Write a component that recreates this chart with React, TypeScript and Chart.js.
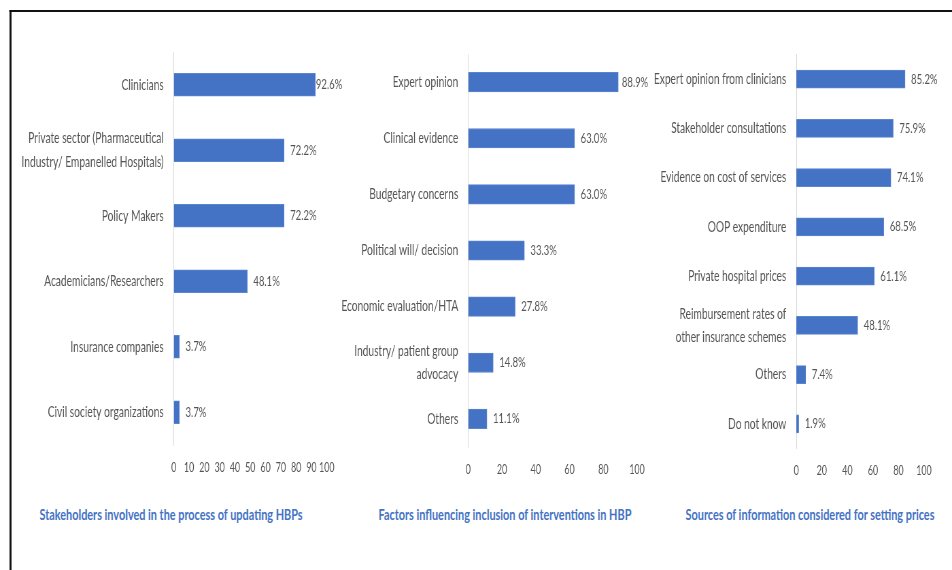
import React, { useEffect, useRef } from "react";
import { Chart, registerables } from "chart.js";

Chart.register(...registerables);

// ---------- data ----------
const stakeholderLabels: (string | string[])[] = [
  "Clinicians",
  ["Private sector (Pharmaceutical", "Industry/ Empanelled Hospitals)"],
  "Policy Makers",
  "Academicians/Researchers",
  "Insurance companies",
  "Civil society organizations",
];
const stakeholderValues = [92.6, 72.2, 72.2, 48.1, 3.7, 3.7];
const stakeholderTitle = "Stakeholders involved in the process of updating HBPs";
const stakeholderStep = 10;

const factorLabels: (string | string[])[] = [
  "Expert opinion",
  "Clinical evidence",
  "Budgetary concerns",
  "Political will/ decision",
  "Economic evaluation/HTA",
  ["Industry/ patient group", "advocacy"],
  "Others",
];
const factorValues = [88.9, 63.0, 63.0, 33.3, 27.8, 14.8, 11.1];
const factorTitle = "Factors influencing inclusion of interventions in HBP";
const factorStep = 20;

const sourceLabels: (string | string[])[] = [
  "Expert opinion from clinicians",
  "Stakeholder consultations",
  "Evidence on cost of services",
  "OOP expenditure",
  "Private hospital prices",
  ["Reimbursement rates of", "other insurance schemes"],
  "Others",
  "Do not know",
];
const sourceValues = [85.2, 75.9, 74.1, 68.5, 61.1, 48.1, 7.4, 1.9];
const sourceTitle = "Sources of information considered for setting prices";
const sourceStep = 20;

const axisMin = 0;
const axisMax = 100;

// ---------- style ----------
const S = 0.68; // horizontal squeeze of the whole picture
const X = (px: number) => px / S;
const FONT = "Lato, 'Noto Sans', sans-serif";
const BAR = "#4472C4";
const TEXT = "#555555";

type PanelProps = {
  labels: (string | string[])[];
  values: number[];
  step: number;
  left: number;
  right: number;
  top: number;
  bottom: number;
  axisX: number;
  fullX: number;
  areaTop: number;
  areaBottom: number;
  barThickness: number;
  labelLimit: number;
};

function Panel(p: PanelProps) {
  const ref = useRef<HTMLCanvasElement>(null);
  const w = Math.round(X(p.right - p.left));
  const h = Math.round(p.bottom - p.top);

  useEffect(() => {
    const canvas = ref.current;
    if (!canvas) return;
    const valueLabels = {
      id: "valueLabels",
      afterDatasetsDraw(chart: any) {
        const ctx = chart.ctx;
        const meta = chart.getDatasetMeta(0);
        ctx.save();
        ctx.font = `14px ${FONT}`;
        ctx.fillStyle = TEXT;
        ctx.textBaseline = "middle";
        ctx.textAlign = "left";
        const limit = X(p.labelLimit - p.left);
        meta.data.forEach((bar: any, i: number) => {
          const txt = p.values[i].toFixed(1) + "%";
          const tw = ctx.measureText(txt).width;
          let x = bar.x + X(6);
          if (x + tw > limit) x = limit - tw;
          ctx.fillText(txt, x, bar.y);
        });
        ctx.restore();
      },
    };
    const chart = new Chart(canvas, {
      type: "bar",
      data: {
        labels: p.labels,
        datasets: [
          {
            data: p.values,
            backgroundColor: BAR,
            borderColor: "#5b84cf",
            borderWidth: 1,
            barThickness: p.barThickness,
          },
        ],
      },
      options: {
        indexAxis: "y",
        responsive: false,
        animation: false,
        layout: {
          padding: {
            top: p.areaTop - p.top,
            right: X(p.right - p.fullX),
            left: 0,
            bottom: 0,
          },
        },
        plugins: {
          legend: { display: false },
          tooltip: { enabled: false },
          title: { display: false },
        },
        scales: {
          x: {
            min: axisMin,
            max: axisMax,
            grid: { display: false, drawTicks: false },
            border: { display: false },
            ticks: {
              stepSize: p.step,
              autoSkip: false,
              maxRotation: 0,
              minRotation: 0,
              color: TEXT,
              font: { family: FONT, size: 13 },
              padding: 15,
            },
            afterFit: (s: any) => {
              s.height = p.bottom - p.areaBottom;
            },
          },
          y: {
            grid: { display: false, drawTicks: false },
            border: { display: true, color: "#d9d9d9", width: 1 },
            ticks: {
              color: TEXT,
              font: { family: FONT, size: 15, lineHeight: 1.55 },
              padding: X(10),
              autoSkip: false,
            },
            afterFit: (s: any) => {
              s.width = X(p.axisX - p.left);
              s.paddingTop = 0;
              s.paddingBottom = 0;
            },
          },
        },
      },
      plugins: [valueLabels],
    } as any);
    return () => chart.destroy();
  }, []);

  return (
    <canvas
      ref={ref}
      width={w}
      height={h}
      style={{ position: "absolute", left: X(p.left), top: p.top, width: w, height: h, display: "block" }}
    />
  );
}

function Title({ text, cx }: { text: string; cx: number }) {
  return (
    <div
      style={{
        position: "absolute",
        left: X(cx) - 400,
        width: 800,
        top: 504,
        height: 20,
        lineHeight: "20px",
        textAlign: "center",
        color: BAR,
        fontFamily: FONT,
        fontWeight: 700,
        fontSize: 16,
        whiteSpace: "nowrap",
      }}
    >
      {text}
    </div>
  );
}

export default function App() {
  return (
    <div
      style={{
        position: "fixed",
        left: 0,
        top: 0,
        width: X(952),
        height: 570,
        overflow: "hidden",
        background: "#fff",
        transform: `scaleX(${S})`,
        transformOrigin: "0 0",
      }}
    >
      <div
        style={{
          position: "absolute",
          left: X(9.5),
          top: 9.5,
          width: X(1200),
          height: 800,
          borderLeft: `${X(2.5)}px solid #111`,
          borderTop: "2px solid #111",
        }}
      />
      <Panel
        labels={stakeholderLabels}
        values={stakeholderValues}
        step={stakeholderStep}
        left={14}
        right={350}
        top={40}
        bottom={490}
        axisX={173.5}
        fullX={326.5}
        areaTop={52}
        areaBottom={445}
        barThickness={23}
        labelLimit={342}
      />
      <Panel
        labels={factorLabels}
        values={factorValues}
        step={factorStep}
        left={335}
        right={665}
        top={40}
        bottom={490}
        axisX={468}
        fullX={637}
        areaTop={54}
        areaBottom={447}
        barThickness={19.5}
        labelLimit={648}
      />
      <Panel
        labels={sourceLabels}
        values={sourceValues}
        step={sourceStep}
        left={645}
        right={952}
        top={40}
        bottom={490}
        axisX={796}
        fullX={924}
        areaTop={54.5}
        areaBottom={448.5}
        barThickness={18}
        labelLimit={950}
      />
      <Title text={stakeholderTitle} cx={171} />
      <Title text={factorTitle} cx={505} />
      <Title text={sourceTitle} cx={810} />
    </div>
  );
}
